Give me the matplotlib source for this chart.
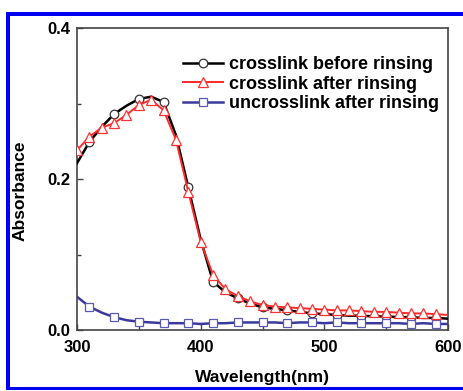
################################################################################
# Imports                                                                      #
################################################################################
import matplotlib

matplotlib.use("Agg")

import matplotlib.pyplot as plt
import numpy as np
from matplotlib.patches import Rectangle

################################################################################
# variables/constants                                                          #
################################################################################
# Absorbance spectra sampled every 10 nm from 300 to 600 nm.
wavelength = list(range(300, 601, 10))

beforeRinsing = [
    0.221, 0.249, 0.269, 0.286, 0.297, 0.306, 0.309, 0.302, 0.258, 0.189,
    0.120, 0.064, 0.050, 0.042, 0.035, 0.030, 0.028, 0.026, 0.024, 0.022,
    0.021, 0.020, 0.019, 0.019, 0.018, 0.018, 0.017, 0.017, 0.016, 0.016,
    0.015,
]
afterRinsing = [
    0.238, 0.256, 0.268, 0.274, 0.285, 0.298, 0.305, 0.291, 0.252, 0.183,
    0.117, 0.073, 0.054, 0.045, 0.038, 0.033, 0.031, 0.030, 0.029, 0.028,
    0.027, 0.026, 0.026, 0.025, 0.024, 0.024, 0.023, 0.022, 0.022, 0.021,
    0.020,
]
uncrosslinkRinsed = [
    0.044, 0.031, 0.023, 0.017, 0.013, 0.011, 0.010, 0.009, 0.009, 0.009,
    0.008, 0.009, 0.009, 0.010, 0.010, 0.010, 0.010, 0.009, 0.010, 0.010,
    0.009, 0.010, 0.009, 0.009, 0.009, 0.009, 0.009, 0.008, 0.009, 0.008,
    0.008,
]

seriesLabels = [
    "crosslink before rinsing",
    "crosslink after rinsing",
    "uncrosslink after rinsing",
]
xTicks = [300, 400, 500, 600]
yTicks = [0.0, 0.2, 0.4]

fontName = "Liberation Sans"
blue = "#0000f0"

################################################################################
# plots                                                                        #
################################################################################


# Draws the three absorbance curves with open markers and a bold legend.
def plotSpectra(fileName):
    fig = plt.figure(figsize=(4.64, 3.91), dpi=100)
    ax = fig.add_axes([77 / 464, 1 - 330 / 391, 371 / 464, 302 / 391])

    ax.plot(
        wavelength, beforeRinsing, color="black", lw=1.8,
        marker="o", ms=6.2, mfc="white", mec="#333333", mew=0.9,
        markevery=slice(1, None, 2), label=seriesLabels[0], zorder=3,
    )
    ax.plot(
        wavelength, afterRinsing, color="#ff2a2a", lw=1.4,
        marker="^", ms=7.5, mfc="white", mec="#ff3030", mew=0.9,
        markevery=slice(0, 30), label=seriesLabels[1], zorder=4,
    )
    ax.plot(
        wavelength, uncrosslinkRinsed, color="#3a3a9c", lw=1.8,
        marker="s", ms=6.0, mfc="white", mec="#5a5ab4", mew=0.9,
        markevery=slice(1, None, 2), label=seriesLabels[2], zorder=3,
    )

    ax.set_xlim(300, 600)
    ax.set_ylim(0.0, 0.4)
    ax.set_xticks(xTicks)
    ax.set_yticks(yTicks)
    ax.set_xticks([350, 450, 550], minor=True)
    ax.set_yticks([0.1, 0.3], minor=True)
    ax.set_xticklabels([str(v) for v in xTicks])
    ax.set_yticklabels([f"{v:.1f}" for v in yTicks])
    ax.tick_params(
        which="both", direction="in", color="#444444", width=1.0,
        labelsize=12, top=False, right=False,
    )
    ax.tick_params(which="major", length=4)
    ax.tick_params(which="minor", length=3)
    ax.tick_params(axis="x", pad=7)
    ax.tick_params(axis="y", pad=5)
    for label in ax.get_xticklabels() + ax.get_yticklabels():
        label.set_fontweight("bold")
        label.set_fontfamily(fontName)

    for spine in ax.spines.values():
        spine.set_color("#444444")
        spine.set_linewidth(1.2)

    ax.set_xlabel("Wavelength(nm)", fontsize=12.5, fontweight="bold",
                  fontfamily=fontName)
    ax.set_ylabel("Absorbance", fontsize=12.5, fontweight="bold",
                  fontfamily=fontName)
    ax.xaxis.set_label_coords(0.5, -0.133)
    ax.yaxis.set_label_coords(-0.133, 0.46)

    ax.legend(
        loc="upper left", bbox_to_anchor=(183 / 464, 1 - 56 / 391),
        bbox_transform=fig.transFigure, frameon=False, borderpad=0,
        borderaxespad=0, handlelength=2.2, handletextpad=0.35,
        labelspacing=0.15,
        prop={"family": fontName, "weight": "bold", "size": 13},
    )

    # Blue frame around the figure, open on the right side.
    for x0, y0, w, h in [
        (6, 12, 458, 4),
        (6, 12, 4, 378),
        (6, 387, 458, 3),
    ]:
        fig.patches.append(Rectangle(
            (x0 / 464, 1 - (y0 + h) / 391), w / 464, h / 391,
            transform=fig.transFigure, color=blue, lw=0,
        ))

    fig.savefig(fileName, dpi=100)
    plt.close(fig)

################################################################################
# main functions                                                               #
################################################################################


def main():
    plotSpectra("out.png")


if __name__ == "__main__":
    main()
